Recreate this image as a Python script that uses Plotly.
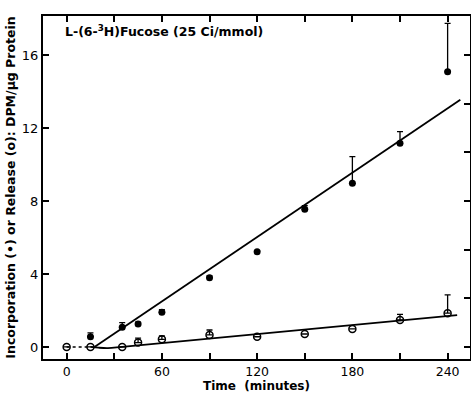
import plotly.graph_objects as go

# Incorporation (filled circles)
inc_t = [15, 35, 45, 60, 90, 120, 150, 180, 210, 240]
inc_y = [0.56, 1.08, 1.26, 1.90, 3.80, 5.22, 7.55, 8.97, 11.16, 15.08]
inc_err = [0.21, 0.25, 0.10, 0.15, 0.10, 0.05, 0.20, 1.46, 0.64, 2.66]

# Release (open circles)
rel_t = [0, 15, 35, 45, 60, 90, 120, 150, 180, 210, 240]
rel_y = [0.0, 0.0, 0.0, 0.24, 0.42, 0.66, 0.56, 0.71, 0.99, 1.48, 1.85]
rel_err = [0, 0, 0, 0.24, 0.18, 0.27, 0, 0, 0, 0.31, 1.0]

# Fitted lines
inc_fit_t = [17.5, 248]
inc_fit_y = [0.0, 13.55]
rel_lag_t = [0, 15]
rel_lag_y = [0.0, 0.0]
rel_fit_t = [15, 20, 26, 35, 246]
rel_fit_y = [0.0, -0.04, -0.06, 0.0, 1.75]

x_ticks = [0, 60, 120, 180, 240]
x_minor = [0, 30, 60, 90, 120, 150, 180, 210, 240]
y_ticks = [0, 4, 8, 12, 16]
y_right_ticks = [i * 16 / 6 for i in range(7)]

FONT = "DejaVu Sans"
fig = go.Figure()

fig.add_trace(go.Scatter(x=rel_lag_t, y=rel_lag_y, mode="lines",
                         line=dict(color="black", width=1.5, dash="dot"),
                         showlegend=False, hoverinfo="skip"))
fig.add_trace(go.Scatter(x=rel_fit_t, y=rel_fit_y, mode="lines",
                         line=dict(color="black", width=1.8, shape="spline"),
                         showlegend=False, hoverinfo="skip"))
fig.add_trace(go.Scatter(x=inc_fit_t, y=inc_fit_y, mode="lines",
                         line=dict(color="black", width=1.8),
                         showlegend=False, hoverinfo="skip"))

fig.add_trace(go.Scatter(
    x=rel_t, y=rel_y, mode="markers",
    marker=dict(symbol="circle-open", size=7, color="black", line=dict(width=1.5)),
    error_y=dict(type="data", symmetric=False, array=rel_err,
                 arrayminus=[0] * len(rel_err), color="black", thickness=1.3, width=3),
    showlegend=False))
fig.add_trace(go.Scatter(
    x=inc_t, y=inc_y, mode="markers",
    marker=dict(symbol="circle", size=7, color="black"),
    error_y=dict(type="data", symmetric=False, array=inc_err,
                 arrayminus=[0] * len(inc_err), color="black", thickness=1.3, width=3),
    showlegend=False))

# dummy trace to activate secondary axes
fig.add_trace(go.Scatter(x=[None], y=[None], xaxis="x2", yaxis="y2",
                         showlegend=False, hoverinfo="skip"))

xr = [-14.9, 254.1]
yr = [-0.66, 18.14]

fig.update_layout(
    width=471, height=393,
    margin=dict(l=43, r=1, t=16, b=34),
    plot_bgcolor="white", paper_bgcolor="white",
    font=dict(family=FONT, size=13, color="black"),
    xaxis=dict(range=xr, tickmode="array", tickvals=x_ticks,
               ticktext=[str(v) for v in x_ticks],
               ticks="inside", ticklen=6, tickwidth=1.5, tickcolor="black",
               minor=dict(tickmode="array", tickvals=x_minor, ticks="inside",
                          ticklen=6, tickwidth=1.5, tickcolor="black"),
               showline=True, linecolor="black", linewidth=2,
               showgrid=False, zeroline=False,
               tickfont=dict(size=12.5, family=FONT),
               title=dict(text="Time  (minutes)", standoff=3,
                          font=dict(size=12, family=FONT, weight="bold"))),
    yaxis=dict(range=yr, tickmode="array", tickvals=y_ticks,
               ticks="inside", ticklen=6, tickwidth=1.5, tickcolor="black",
               showline=True, linecolor="black", linewidth=2,
               showgrid=False, zeroline=False,
               tickfont=dict(size=13, family=FONT),
               title=dict(text="Incorporation (•) or Release (o): DPM/µg Protein",
                          standoff=3,
                          font=dict(size=12.5, family=FONT, weight="bold"))),
    xaxis2=dict(range=xr, overlaying="x", side="top", tickmode="array",
                tickvals=x_minor, ticks="inside", ticklen=6, tickwidth=1.5,
                tickcolor="black", showticklabels=False, showline=True,
                linecolor="black", linewidth=2, showgrid=False, zeroline=False),
    yaxis2=dict(range=yr, overlaying="y", side="right", anchor="x",
                tickmode="array", tickvals=y_right_ticks, ticks="inside",
                ticklen=6, tickwidth=1.5, tickcolor="black",
                showticklabels=False, showline=True, linecolor="black",
                linewidth=2, showgrid=False, zeroline=False),
    annotations=[dict(
        text="L-(6-<sup>3</sup>H)Fucose (25 Ci/mmol)",
        xref="paper", yref="paper", x=0.046, y=0.985,
        xanchor="left", yanchor="top", showarrow=False,
        font=dict(size=12.5, family=FONT, weight="bold"))],
)

fig.write_html("out.html")
